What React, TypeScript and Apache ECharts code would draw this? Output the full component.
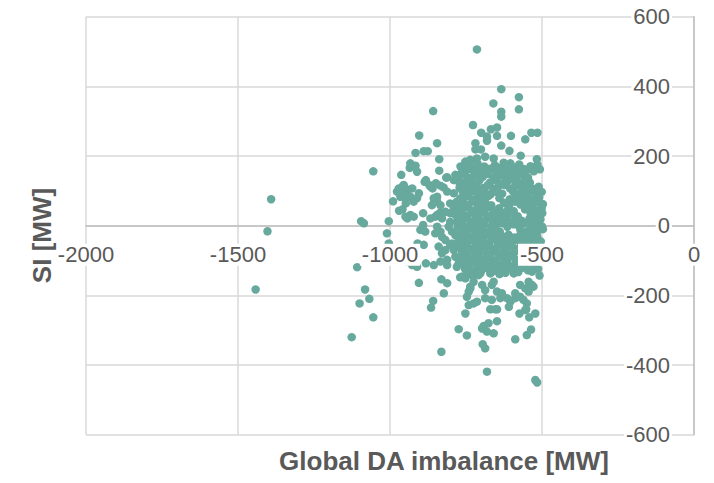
import React, { useEffect, useRef } from "react";
import * as echarts from "echarts";

// Axis ticks
const xTicks = [-2000, -1500, -1000, -500, 0];
const yTicks = [-600, -400, -200, 0, 200, 400, 600];

// Scatter values [Global DA imbalance, SI]
const leftOutliers: number[][] = [
  [-1391, 76], [-1403, -16], [-1442, -183],
];

const nearThousand: number[][] = [
  [-1055, 156], [-1095, 13], [-1086, 7], [-1004, 13], [-1010, -22], [-1004, -51],
  [-1108, -119], [-1082, -183], [-1100, -223], [-1068, -210], [-1055, -263], [-1126, -320],
];

const upperPoints: number[][] = [
  [-714, 506], [-634, 392], [-576, 369], [-660, 351], [-576, 334], [-634, 327], [-634, 313],
  [-858, 329], [-727, 289], [-700, 267], [-668, 277], [-648, 282], [-681, 256], [-681, 244],
  [-648, 258], [-602, 258], [-555, 248], [-535, 267], [-515, 267], [-634, 230], [-719, 237],
  [-719, 219], [-701, 219], [-607, 215], [-570, 201], [-517, 191], [-687, 198], [-659, 193],
  [-752, 184], [-736, 189], [-714, 193], [-904, 259], [-845, 237], [-916, 209], [-889, 214],
  [-876, 214], [-838, 191], [-933, 179], [-916, 172], [-935, 166], [-911, 155], [-838, 158],
  [-963, 146], [-812, 139], [-785, 146], [-771, 146], [-604, 179], [-626, 181], [-588, 166],
  [-522, 169], [-526, 160], [-752, 176], [-738, 181],
];

const topEdge: number[][] = [
  [-768, 170], [-748, 176], [-731, 166], [-712, 178], [-690, 170], [-676, 163], [-655, 174],
  [-640, 166], [-618, 172], [-597, 168], [-575, 176], [-560, 163], [-538, 171], [-515, 175],
];

const midLeftPoints: number[][] = [
  [-886, 126], [-867, 112], [-834, 115], [-824, 110], [-773, 126], [-957, 114], [-946, 105],
  [-927, 107], [-905, 93], [-977, 98], [-966, 83], [-990, 70], [-959, 47], [-970, 43],
  [-948, 64], [-845, 83], [-854, 69], [-812, 98], [-790, 93], [-758, 112], [-891, 36],
  [-933, 31], [-943, 21], [-922, 26], [-867, 21], [-845, 31], [-834, 38], [-818, 40],
  [-802, 11], [-780, 11], [-891, 2], [-815, 138], [-790, 131], [-882, 131], [-871, 117],
  [-860, 107], [-849, 122], [-971, 107], [-955, 117], [-943, 100], [-960, 93], [-949, 79],
  [-933, 83], [-922, 69], [-911, 79], [-856, 79], [-845, 69], [-834, 59], [-862, 59],
  [-802, 64], [-780, 69], [-790, 50], [-774, 50], [-949, 26], [-851, 26], [-829, 21],
  [-802, 36], [-785, 31], [-774, 21], [-900, -12], [-884, -17], [-845, -3], [-851, -22],
  [-834, -17], [-829, -32], [-818, -41], [-807, -3], [-796, -17], [-785, -27], [-777, -3],
  [-774, -41], [-840, -60], [-829, -79], [-834, -103], [-818, -70], [-802, -55], [-790, -70],
  [-785, -89], [-943, -103], [-927, -113], [-911, -118], [-882, -108], [-856, -113],
  [-812, -113], [-780, -118], [-909, -51], [-889, -55], [-812, -98], [-796, -51], [-780, -55],
  [-763, -70], [-774, -108], [-763, -89],
];

const coreUpper: number[][] = [
  [-762, 158], [-741, 163], [-723, 154], [-704, 161], [-684, 156], [-667, 164], [-649, 152],
  [-629, 160], [-609, 155], [-590, 162], [-568, 153], [-549, 160], [-527, 156], [-507, 162],
  [-774, 141], [-753, 147], [-734, 138], [-715, 145], [-695, 140], [-676, 149], [-659, 137],
  [-641, 144], [-620, 139], [-602, 148], [-582, 141], [-562, 146], [-546, 138],
  [-766, 125], [-746, 131], [-726, 122], [-706, 130], [-671, 124], [-651, 131], [-634, 121],
  [-613, 128], [-597, 133], [-577, 123], [-557, 129], [-540, 124],
  [-771, 109], [-751, 115], [-733, 106], [-716, 113], [-696, 108], [-679, 116], [-660, 105],
  [-644, 112], [-623, 117], [-605, 107], [-588, 114], [-567, 109], [-549, 116], [-530, 106],
  [-511, 112],
  [-761, 98], [-743, 91], [-725, 99], [-705, 93], [-689, 100], [-669, 90], [-650, 97],
  [-631, 92], [-596, 99], [-578, 91], [-557, 96], [-537, 101], [-519, 90], [-501, 97],
  [-769, 78], [-749, 84], [-729, 75], [-711, 82], [-693, 77], [-677, 85], [-640, 79],
  [-606, 76], [-587, 83], [-565, 78], [-547, 86], [-529, 75], [-509, 81],
  [-759, 66], [-741, 60], [-722, 69], [-704, 62], [-687, 67], [-667, 59], [-625, 66],
  [-608, 60], [-589, 69], [-571, 61], [-550, 66], [-533, 58], [-513, 68], [-497, 62],
  [-771, 46], [-750, 52], [-731, 43], [-713, 50], [-695, 45], [-677, 53], [-660, 44],
  [-641, 50], [-611, 48], [-593, 42], [-556, 47], [-539, 52], [-519, 44], [-501, 50],
  [-763, 34], [-746, 28], [-726, 36], [-709, 30], [-689, 37], [-672, 27], [-653, 33],
  [-633, 38], [-616, 29], [-598, 35], [-580, 27], [-537, 33], [-516, 28], [-499, 36],
];

const coreLower: number[][] = [
  [-769, 15], [-751, 21], [-733, 12], [-717, 19], [-699, 14], [-679, 22], [-662, 13],
  [-643, 18], [-623, 23], [-605, 12], [-585, 19], [-566, 14], [-541, 20], [-523, 12], [-505, 18],
  [-761, 3], [-744, -3], [-724, 5], [-706, -2], [-689, 6], [-669, -4], [-652, 2],
  [-631, 7], [-614, -3], [-594, 4], [-576, -1], [-556, 6], [-537, -4], [-518, 3], [-500, -2],
  [-767, -12], [-749, -18], [-730, -9], [-712, -16], [-695, -11], [-675, -19], [-656, -10],
  [-639, -17], [-571, -12], [-552, -18], [-534, -9], [-514, -15], [-497, -10],
  [-759, -28], [-741, -34], [-722, -25], [-704, -32], [-687, -27], [-667, -35], [-649, -24],
  [-629, -31], [-610, -26], [-591, -34], [-572, -27], [-553, -33], [-535, -24], [-516, -31],
  [-765, -44], [-747, -50], [-728, -41], [-710, -48], [-693, -43], [-673, -51], [-654, -40],
  [-635, -47], [-617, -42], [-599, -50], [-579, -41], [-561, -48], [-542, -43], [-523, -51], [-504, -45],
  [-757, -60], [-738, -66], [-719, -57], [-701, -64], [-684, -59], [-664, -67], [-645, -56],
  [-626, -63], [-607, -58], [-589, -66], [-569, -57], [-551, -64], [-532, -60], [-513, -66],
  [-763, -76], [-744, -82], [-726, -73], [-709, -80], [-689, -75], [-670, -83], [-653, -72],
  [-633, -79], [-616, -74], [-595, -82], [-578, -73], [-541, -79], [-511, -75],
  [-755, -92], [-738, -98], [-718, -89], [-701, -96], [-681, -91], [-664, -99], [-643, -88],
  [-625, -95], [-607, -90], [-586, -98], [-531, -92], [-506, -97],
  [-761, -108], [-743, -114], [-726, -105], [-706, -112], [-689, -107], [-669, -115], [-652, -104],
  [-631, -111], [-614, -106], [-593, -114], [-576, -105], [-555, -112], [-521, -108],
  [-753, -124], [-734, -130], [-716, -121], [-699, -128], [-678, -123], [-662, -131], [-641, -120],
  [-622, -127], [-605, -122], [-584, -130], [-566, -121], [-546, -128], [-513, -124],
];

const bottomEdge: number[][] = [
  [-745, -136], [-707, -134], [-640, -139], [-620, -135], [-578, -133], [-508, -143],
];

const lowerPoints: number[][] = [
  [-831, -362], [-681, -419], [-522, -443], [-516, -450], [-905, -164], [-823, -194],
  [-858, -216], [-865, -235], [-752, -252], [-774, -297], [-747, -315], [-831, -154],
  [-812, -165], [-692, -288], [-648, -274], [-670, -240], [-648, -240], [-695, -340],
  [-687, -352], [-588, -326], [-550, -314], [-536, -298], [-574, -252], [-542, -263],
  [-522, -252], [-552, -240], [-769, -148], [-752, -151], [-730, -142], [-703, -137],
  [-670, -137], [-659, -127], [-593, -137], [-533, -132], [-741, -189], [-736, -180],
  [-697, -170], [-687, -185], [-665, -170], [-659, -161], [-648, -189], [-632, -194],
  [-637, -208], [-687, -208], [-665, -213], [-615, -208], [-604, -218], [-588, -208],
  [-572, -204], [-588, -194], [-572, -170], [-555, -180], [-544, -161], [-533, -170],
  [-561, -213], [-550, -223], [-741, -228], [-725, -223], [-654, -240], [-609, -233],
  [-555, -242], [-676, -280], [-697, -295], [-681, -304], [-659, -309], [-528, -175],
  [-544, -189], [-517, -41], [-533, -103], [-528, -118], [-763, -146], [-747, -127],
  [-736, -175], [-725, -161], [-709, -142], [-747, -204], [-714, -218],
];

const FONT = "'Liberation Sans', Arial, sans-serif";
const TEXT = "#595959";

export default function App() {
  const ref = useRef<HTMLDivElement>(null);
  useEffect(() => {
    if (!ref.current) return;
    const chart = echarts.init(ref.current, null, { renderer: "svg" });
    const points = [
      ...leftOutliers, ...nearThousand, ...upperPoints, ...topEdge,
      ...midLeftPoints, ...coreUpper, ...coreLower, ...bottomEdge, ...lowerPoints,
    ];
    chart.setOption({
      animation: false,
      backgroundColor: "#ffffff",
      grid: { left: 86, right: 20, top: 16.7, bottom: 48.3, containLabel: false },
      xAxis: [
        {
          type: "value", min: xTicks[0], max: xTicks[xTicks.length - 1], interval: 500,
          position: "bottom", z: 0,
          axisLine: { show: true, onZero: true, onZeroAxisIndex: 0, lineStyle: { color: "#bfbfbf", width: 1.5 } },
          axisTick: { show: false },
          axisLabel: { show: false },
          splitLine: { show: true, lineStyle: { color: "#d9d9d9", width: 1.5 } },
        },
        {
          type: "value", min: xTicks[0], max: xTicks[xTicks.length - 1], interval: 500,
          position: "bottom", z: 5, offset: -209,
          axisLine: { show: false, onZero: false },
          axisTick: { show: false },
          splitLine: { show: false },
          axisLabel: {
            show: true, margin: 18, fontSize: 22, color: TEXT, fontFamily: FONT,
            backgroundColor: "#ffffff", padding: [0, 2, 0, 2],
            formatter: (v: number) => String(v),
          },
        },
      ],
      yAxis: {
        type: "value", min: yTicks[0], max: yTicks[yTicks.length - 1], interval: 200,
        position: "right",
        axisLine: { show: true, onZero: false, lineStyle: { color: "#bfbfbf", width: 1.5 } },
        axisTick: { show: false },
        axisLabel: {
          inside: true, margin: 22, fontSize: 22, color: TEXT, fontFamily: FONT,
          backgroundColor: "#ffffff", padding: [0, 2, 0, 2],
          formatter: (v: number) => String(v),
        },
        splitLine: { show: true, lineStyle: { color: "#d9d9d9", width: 1.5 } },
      },
      series: [
        {
          type: "scatter", xAxisIndex: 0, yAxisIndex: 0, data: points,
          symbolSize: 8.5, z: 2,
          itemStyle: { color: "#67a99d", opacity: 1 },
        },
      ],
      graphic: [
        {
          type: "text", x: 444, y: 461, z: 10,
          style: {
            text: "Global DA imbalance [MW]", fill: TEXT, fontFamily: FONT,
            fontSize: 26, fontWeight: "bold", align: "center", verticalAlign: "middle",
          },
        },
        {
          type: "text", x: 42, y: 235.5, rotation: Math.PI / 2, z: 10,
          style: {
            text: "SI [MW]", fill: TEXT, fontFamily: FONT,
            fontSize: 26, fontWeight: "bold", align: "center", verticalAlign: "middle",
          },
        },
      ],
    });
    return () => chart.dispose();
  }, []);
  return (
    <div
      ref={ref}
      style={{ position: "fixed", left: 0, top: 0, width: 714, height: 483, background: "#fff" }}
    />
  );
}
